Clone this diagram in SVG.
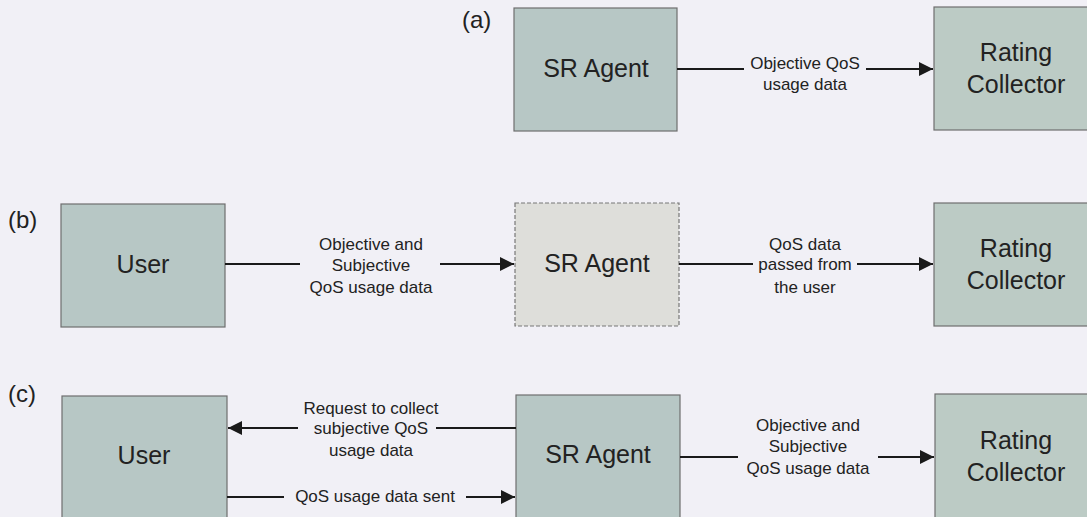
<svg xmlns="http://www.w3.org/2000/svg" width="1087" height="517" viewBox="0 0 1087 517">
<defs>
<marker id="arr" viewBox="0 0 10 10" refX="10" refY="5" markerWidth="8" markerHeight="7" markerUnits="strokeWidth" orient="auto-start-reverse">
<path d="M0,0 L10,5 L0,10 z" fill="#1a1a1a"/>
</marker>
<style>
.box{fill:#b7c7c5;stroke:#6e6e6e;stroke-width:1.2}
.rc{fill:#bccbc5;stroke:#6e6e6e;stroke-width:1.2}
.dash{fill:#dededa;stroke:#777;stroke-width:1.2;stroke-dasharray:4 2}
.nt{font-family:"Liberation Sans",Arial,sans-serif;font-size:25px;fill:#222;text-anchor:middle}
.lt{font-family:"Liberation Sans",Arial,sans-serif;font-size:17px;fill:#222;text-anchor:middle}
.tag{font-family:"Liberation Sans",Arial,sans-serif;font-size:24px;fill:#222}
.ln{stroke:#1a1a1a;stroke-width:2;fill:none}
</style>
</defs>
<rect x="0" y="0" width="1087" height="517" fill="#f1f0f6"/>
<g id="tags">
<text class="tag" x="462" y="28">(a)</text>
<text class="tag" x="8" y="228">(b)</text>
<text class="tag" x="8" y="402">(c)</text>
</g>
<g id="a-sr-agent"><rect class="box" x="514" y="8" width="163" height="123"/><text class="nt" x="596" y="77">SR Agent</text></g>
<g id="a-rating-collector"><rect class="rc" x="934" y="7" width="170" height="123"/><text class="nt" x="1016" y="61">Rating</text><text class="nt" x="1016" y="93">Collector</text></g>
<g id="b-user"><rect class="box" x="61" y="204" width="164" height="123"/><text class="nt" x="143" y="273">User</text></g>
<g id="b-sr-agent"><rect class="dash" x="515" y="203" width="164" height="123"/><text class="nt" x="597" y="272">SR Agent</text></g>
<g id="b-rating-collector"><rect class="rc" x="934" y="203" width="170" height="123"/><text class="nt" x="1016" y="257">Rating</text><text class="nt" x="1016" y="289">Collector</text></g>
<g id="c-user"><rect class="box" x="62" y="396" width="165" height="125"/><text class="nt" x="144" y="464">User</text></g>
<g id="c-sr-agent"><rect class="box" x="516" y="395" width="164" height="125"/><text class="nt" x="598" y="463">SR Agent</text></g>
<g id="c-rating-collector"><rect class="rc" x="935" y="394" width="170" height="125"/><text class="nt" x="1016" y="449">Rating</text><text class="nt" x="1016" y="481">Collector</text></g>
<g id="connectors">
<line class="ln" x1="677" y1="69" x2="744" y2="69"/>
<line class="ln" x1="866" y1="69" x2="933" y2="69" marker-end="url(#arr)"/>
<line class="ln" x1="225" y1="264" x2="300" y2="264"/>
<line class="ln" x1="440" y1="264" x2="514" y2="264" marker-end="url(#arr)"/>
<line class="ln" x1="679" y1="264" x2="753" y2="264"/>
<line class="ln" x1="857" y1="264" x2="933" y2="264" marker-end="url(#arr)"/>
<line class="ln" x1="298" y1="428" x2="228" y2="428" marker-end="url(#arr)"/>
<line class="ln" x1="436" y1="428" x2="516" y2="428"/>
<line class="ln" x1="227" y1="497" x2="284" y2="497"/>
<line class="ln" x1="466" y1="497" x2="515" y2="497" marker-end="url(#arr)"/>
<line class="ln" x1="680" y1="457" x2="738" y2="457"/>
<line class="ln" x1="878" y1="457" x2="934" y2="457" marker-end="url(#arr)"/>
</g>
<g id="labels">
<text class="lt" x="805" y="69">Objective QoS</text>
<text class="lt" x="805" y="90">usage data</text>
<text class="lt" x="371" y="250">Objective and</text>
<text class="lt" x="371" y="271">Subjective</text>
<text class="lt" x="371" y="293">QoS usage data</text>
<text class="lt" x="805" y="250">QoS  data</text>
<text class="lt" x="805" y="270">passed from</text>
<text class="lt" x="805" y="293">the user</text>
<text class="lt" x="371" y="414">Request to collect</text>
<text class="lt" x="371" y="434">subjective QoS</text>
<text class="lt" x="371" y="456">usage data</text>
<text class="lt" x="375" y="502">QoS usage data sent</text>
<text class="lt" x="808" y="431">Objective and</text>
<text class="lt" x="808" y="452">Subjective</text>
<text class="lt" x="808" y="474">QoS usage data</text>
</g>
</svg>
